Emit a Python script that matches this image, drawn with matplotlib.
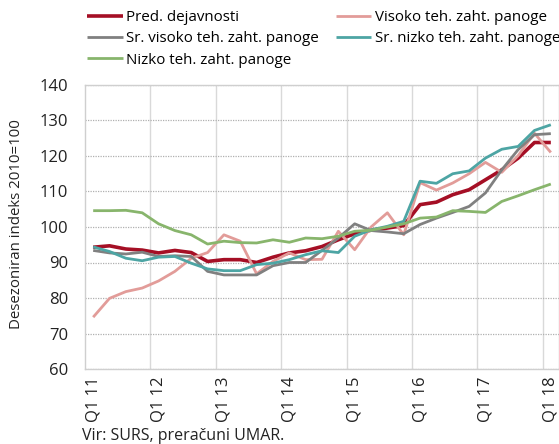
import matplotlib
matplotlib.use("Agg")
import matplotlib.pyplot as plt
import numpy as np

plt.rcParams['font.family'] = ['Open Sans', 'DejaVu Sans']

# četrtletja Q1 2011 - Q1 2018
years = list(range(11, 19))
n_quarters = 29

pred_dejavnosti = [94.3, 94.7, 93.8, 93.5, 92.7, 93.4, 92.8, 90.3, 90.8, 90.8,
                   90.0, 91.5, 92.7, 93.3, 94.5, 96.4, 98.1, 99.1, 99.7, 100.4,
                   106.3, 107.0, 109.1, 110.5, 113.3, 116.1, 119.4, 123.8, 123.8]
visoko = [74.6, 79.9, 81.8, 82.8, 84.8, 87.5, 91.2, 92.8, 97.8, 96.0,
          86.8, 90.3, 92.7, 90.8, 90.9, 98.8, 93.6, 100.0, 104.0, 97.8,
          112.5, 110.4, 112.4, 115.0, 118.2, 115.4, 120.1, 126.4, 121.0]
sr_visoko = [93.4, 92.7, 92.4, 92.9, 91.7, 91.9, 91.7, 87.5, 86.5, 86.5,
             86.5, 89.1, 90.0, 90.0, 93.4, 96.9, 100.9, 99.0, 98.6, 98.1,
             100.7, 102.5, 104.1, 105.8, 109.6, 116.1, 121.8, 126.0, 126.3]
sr_nizko = [94.4, 93.1, 91.2, 90.5, 91.5, 91.7, 89.8, 88.2, 87.7, 87.7,
            89.4, 89.8, 90.8, 92.2, 93.3, 92.8, 97.4, 99.2, 100.2, 101.6,
            112.9, 112.3, 115.0, 115.8, 119.4, 121.9, 122.7, 127.2, 128.8]
nizko = [104.6, 104.6, 104.7, 104.0, 100.9, 99.0, 97.8, 95.2, 96.0, 95.6,
         95.5, 96.4, 95.7, 96.9, 96.7, 97.4, 98.8, 99.1, 100.0, 100.9,
         102.5, 102.8, 104.6, 104.4, 104.1, 107.2, 108.8, 110.5, 112.1]

labels = ['Pred. dejavnosti', 'Visoko teh. zaht. panoge', 'Sr. visoko teh. zaht. panoge',
          'Sr. nizko teh. zaht. panoge', 'Nizko teh. zaht. panoge']
series = [pred_dejavnosti, visoko, sr_visoko, sr_nizko, nizko]
colors = ['#A50F25', '#E29C99', '#808080', '#4DA5A4', '#88B56C']
widths = [2.6, 2.0, 2.0, 2.0, 2.0]

fig = plt.figure(figsize=(5.59, 4.44), dpi=100)
ax = fig.add_axes([85 / 559, 1 - 369 / 444, 474 / 559, 284 / 444])

x = np.arange(n_quarters)
lines = {}
for lab, ys, c, w in zip(labels, series, colors, widths):
    lines[lab], = ax.plot(x, ys, color=c, lw=w, label=lab, solid_capstyle='butt')

ax.set_xlim(-0.5, n_quarters - 0.5)
ax.set_ylim(60, 140)
ax.set_yticks(range(60, 141, 10))
ax.set_xticks(range(0, n_quarters, 4))
ax.set_xticklabels([f'Q1 {y}' for y in years], rotation=90)
ax.set_xticks(np.arange(3.5, n_quarters, 4), minor=True)
ax.tick_params(axis='both', which='both', length=0, labelsize=12, colors='#222222')
ax.tick_params(axis='y', pad=12)
ax.tick_params(axis='x', pad=5.5)

ax.grid(axis='y', which='major', color='#b0b0b0', linestyle=(0, (1, 1)), linewidth=0.9)
ax.grid(axis='x', which='minor', color='#d9d9d9', linestyle='-', linewidth=1.0)
for sp in ax.spines.values():
    sp.set_color('#cfcfcf')
    sp.set_linewidth(1.0)

ax.set_ylabel('Desezoniran indeks 2010=100', fontsize=10.8, color='#222222')
ax.yaxis.set_label_coords(-61 / 474, 0.51)

order = ['Pred. dejavnosti', 'Sr. visoko teh. zaht. panoge', 'Nizko teh. zaht. panoge',
         'Visoko teh. zaht. panoge', 'Sr. nizko teh. zaht. panoge']
fig.legend([lines[k] for k in order], order, loc='upper left', ncol=2,
           bbox_to_anchor=(87 / 559, 1 - 10 / 444), frameon=False, fontsize=10.9,
           handlelength=2.35, handletextpad=0.25, columnspacing=1.1,
           labelspacing=0.42, borderpad=0, borderaxespad=0)

fig.text(82 / 559, 1 - 436 / 444, 'Vir: SURS, preračuni UMAR.', fontsize=11.5,
         va='center', ha='left', color='#222222')

fig.savefig('out.png', dpi=100)
